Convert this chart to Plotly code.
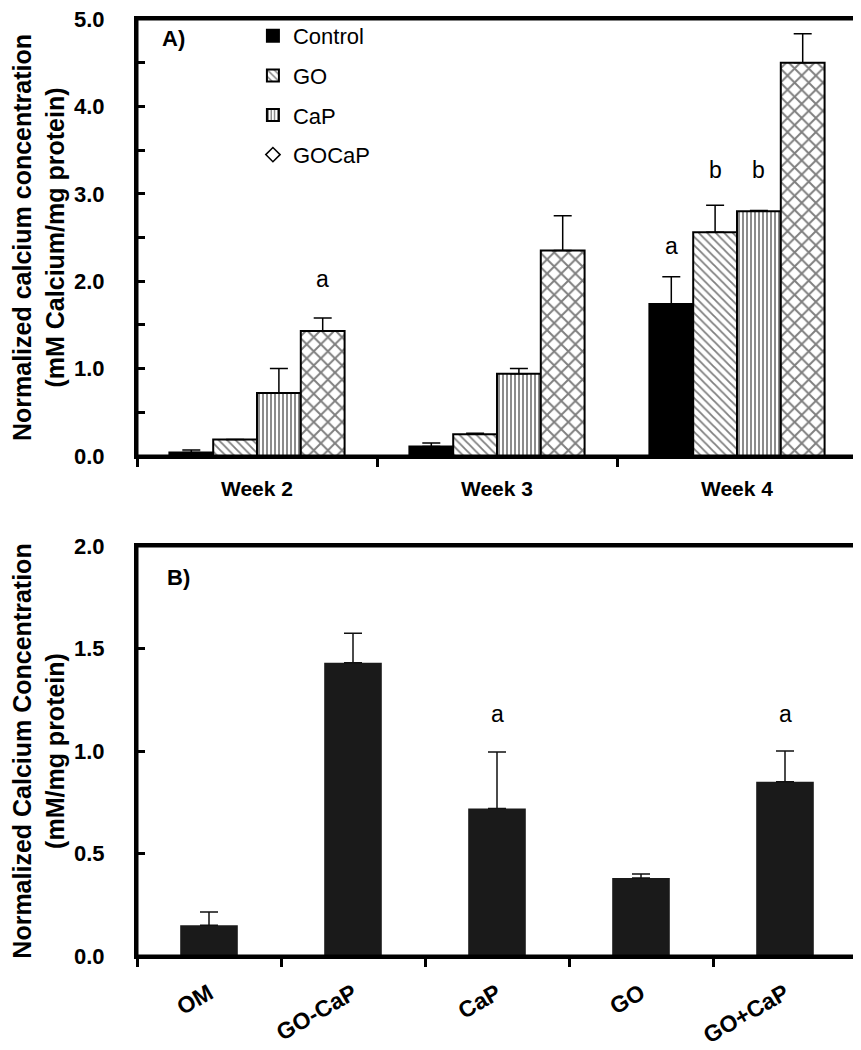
import plotly.graph_objects as go

# Panel A data
weeks = ["Week 2", "Week 3", "Week 4"]
groups = ["Control", "GO", "CaP", "GOCaP"]
control_vals = [0.04, 0.11, 1.74]
control_err = [0.03, 0.04, 0.31]
go_vals = [0.19, 0.25, 2.56]
go_err = [0.0, 0.01, 0.31]
cap_vals = [0.72, 0.94, 2.80]
cap_err = [0.28, 0.06, 0.01]
gocap_vals = [1.43, 2.35, 4.50]
gocap_err = [0.15, 0.40, 0.33]

# significance letters for panel A: (week index, group index, letter, y)
letters_a = [(0, 3, "a", 2.02), (2, 0, "a", 2.40), (2, 1, "b", 3.27), (2, 2, "b", 3.27)]

# Panel B data
treat = ["OM", "GO-CaP", "CaP", "GO", "GO+CaP"]
treat_vals = [0.15, 1.43, 0.72, 0.38, 0.85]
treat_err = [0.065, 0.145, 0.275, 0.02, 0.15]
letters_b = [(2, "a", 1.18), (4, "a", 1.18)]

FONT = "Liberation Sans, Arial, sans-serif"
bargap = 0.27
H = 1050

fig = go.Figure()

styles = [
    dict(color="black", pattern=None),
    dict(color="white", pattern=dict(shape="\\", size=6, solidity=0.3, fgcolor="black", bgcolor="white")),
    dict(color="white", pattern=dict(shape="|", size=4, solidity=0.45, fgcolor="black", bgcolor="white")),
    dict(color="white", pattern=dict(shape="x", size=10, solidity=0.35, fgcolor="black", bgcolor="white")),
]
series = [(control_vals, control_err), (go_vals, go_err), (cap_vals, cap_err), (gocap_vals, gocap_err)]

for name, (vals, errs), st in zip(groups, series, styles):
    marker = dict(color=st["color"], line=dict(color="black", width=2))
    if st["pattern"]:
        marker["pattern"] = st["pattern"]
    fig.add_trace(go.Bar(
        x=weeks, y=vals, name=name, marker=marker,
        legendgroup=name, showlegend=(name != "GOCaP"),
        error_y=dict(type="data", array=errs, arrayminus=[0] * len(errs), symmetric=False,
                     color="black", thickness=1.5, width=9),
        xaxis="x", yaxis="y",
    ))

# legend entry for GOCaP shown as open diamond, as in the original
fig.add_trace(go.Scatter(
    x=[None], y=[None], mode="markers", name="GOCaP", legendgroup="GOCaP_leg",
    marker=dict(symbol="diamond-open", size=11, color="black", line=dict(width=1.5, color="black")),
    xaxis="x", yaxis="y",
))

fig.add_trace(go.Bar(
    x=treat, y=treat_vals, width=0.4, showlegend=False,
    marker=dict(color="#1a1a1a", line=dict(color="#1a1a1a", width=0)),
    error_y=dict(type="data", array=treat_err, arrayminus=[0] * len(treat_err), symmetric=False,
                 color="#111111", thickness=1.5, width=9),
    xaxis="x2", yaxis="y2",
))

annotations = []
bw = (1 - bargap) / len(groups)
for wi, gi, txt, yv in letters_a:
    xpos = wi + (gi - (len(groups) - 1) / 2) * bw
    annotations.append(dict(x=xpos, y=yv, xref="x", yref="y", text=txt, showarrow=False,
                            font=dict(family=FONT, size=23, color="black")))
for ti, txt, yv in letters_b:
    annotations.append(dict(x=ti, y=yv, xref="x2", yref="y2", text=txt, showarrow=False,
                            font=dict(family=FONT, size=23, color="black")))
annotations.append(dict(x=0.032, y=1 - 30 / H, xref="paper", yref="paper", text="A)", showarrow=False,
                        xanchor="left", yanchor="middle",
                        font=dict(family=FONT, size=22, color="black", weight="bold")))
annotations.append(dict(x=0.039, y=1 - 569 / H, xref="paper", yref="paper", text="B)", showarrow=False,
                        xanchor="left", yanchor="middle",
                        font=dict(family=FONT, size=22, color="black", weight="bold")))

# plot frames (box around each panel)
frames = [
    dict(type="rect", xref="x domain", yref="y domain", x0=0, x1=1, y0=0, y1=1,
         line=dict(color="black", width=3), layer="above"),
    dict(type="rect", xref="x2 domain", yref="y2 domain", x0=0, x1=1, y0=0, y1=1,
         line=dict(color="black", width=3), layer="above"),
]

axis_common = dict(showline=True, linecolor="black", linewidth=3, mirror=True, showgrid=False,
                   zeroline=False, tickcolor="black", tickwidth=3, ticklen=8, automargin=False,
                   ticklabeloverflow="allow")
tickfont = dict(family=FONT, size=22, color="black", weight="bold")
titlefont = dict(family=FONT, size=25, color="black", weight="bold")

fig.update_layout(
    width=861, height=H,
    margin=dict(l=129, r=12, t=0, b=0),
    paper_bgcolor="white", plot_bgcolor="white",
    barmode="group", bargap=bargap, bargroupgap=0,
    font=dict(family=FONT, color="black"),
    xaxis=dict(axis_common, domain=[0, 1], anchor="y", ticks="outside", tickson="boundaries",
               ticklabelstandoff=12,
               tickfont=dict(family=FONT, size=21, color="black", weight="bold")),
    yaxis=dict(axis_common, domain=[1 - 448 / H, 1 - 11 / H], anchor="x", range=[0, 5.0],
               dtick=1, tickformat=".1f", ticks="inside", ticklabelstandoff=25, tickfont=tickfont,
               minor=dict(dtick=0.5, ticks="inside", ticklen=8, tickwidth=3, tickcolor="black"),
               title=dict(text="Normalized calcium concentration<br>(mM Calcium/mg protein)",
                          font=titlefont, standoff=6)),
    xaxis2=dict(axis_common, domain=[0, 1], anchor="y2", ticks="outside", tickson="boundaries",
                tickangle=-30, ticklabelstandoff=12,
                tickfont=dict(family=FONT, size=23, color="black", weight="bold")),
    yaxis2=dict(axis_common, domain=[1 - 948 / H, 1 - 538 / H], anchor="x2", range=[0, 2.0],
                dtick=0.5, tickformat=".1f", ticks="inside", ticklabelstandoff=25, tickfont=tickfont,
                title=dict(text="Normalized Calcium Concentration<br>(mM/mg protein)",
                           font=titlefont, standoff=6)),
    legend=dict(x=0.161, y=1 - 7 / H, xanchor="left", yanchor="top", bgcolor="rgba(0,0,0,0)",
                font=dict(family=FONT, size=22, color="black"), tracegroupgap=8,
                itemwidth=30, traceorder="grouped"),
    annotations=annotations,
    shapes=frames,
)

fig.write_html("out.html")
